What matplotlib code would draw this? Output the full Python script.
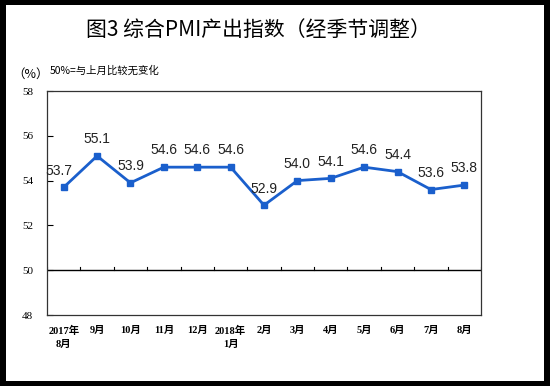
import matplotlib.pyplot as plt
from matplotlib.patches import Rectangle

months = ['2017年\n8月', '9月', '10月', '11月', '12月', '2018年\n1月', '2月',
          '3月', '4月', '5月', '6月', '7月', '8月']
pmi = [53.7, 55.1, 53.9, 54.6, 54.6, 54.6, 52.9, 54.0, 54.1, 54.6, 54.4, 53.6, 53.8]
y_ticks = [48, 50, 52, 54, 56, 58]

cjk = ['Noto Sans CJK SC', 'DejaVu Sans']
serif = ['Liberation Serif', 'Noto Sans CJK SC']

fig = plt.figure(figsize=(5.5, 3.86), dpi=100)
fig.patch.set_facecolor('black')
# white inner panel inside the black border
fig.patches.append(Rectangle((6 / 550, 5 / 386), 538 / 550, 376 / 386,
                             transform=fig.transFigure, facecolor='white',
                             edgecolor='none', zorder=-10))

ax = fig.add_axes([47 / 550, 1 - 315 / 386, 434 / 550, 224 / 386])
ax.set_zorder(1)
x = list(range(len(pmi)))
line_color = '#1a5fcc'
ax.plot(x, pmi, color=line_color, lw=2, marker='s', ms=4, zorder=3)

for i, v in enumerate(pmi):
    dx = -0.15 if i == 0 else 0
    ax.annotate(f'{v:.1f}', (i + dx, v), xytext=(0, 7), textcoords='offset points',
                ha='center', va='bottom', fontsize=10,
                family=['Liberation Sans', 'DejaVu Sans'], color='#222222')

ax.set_xlim(-0.5, len(pmi) - 0.5)
ax.set_ylim(48, 58)
ax.set_yticks(y_ticks)
ax.set_yticklabels([str(t) for t in y_ticks], family=serif, fontsize=8)
ax.tick_params(axis='y', direction='in', length=4, pad=10, width=0.8)

# x axis drawn along the 50 line, labels below the frame
ax.axhline(50, color='black', lw=1, zorder=2)
for i in range(len(pmi) + 1):
    ax.plot([i - 0.5, i - 0.5], [50, 50.15], color='black', lw=0.8)
ax.set_xticks(x)
ax.set_xticklabels(months, family=serif, fontsize=7.5, fontweight='bold',
                   linespacing=1.5, va='top')
ax.tick_params(axis='x', length=0, pad=8)

for s in ax.spines.values():
    s.set_linewidth(0.9)
    s.set_color('#333333')

fig.text(258 / 550, 1 - 30 / 386, '图3 综合PMI产出指数（经季节调整）', ha='center',
         va='center', fontsize=15, family=cjk, fontweight='medium')
fig.text(12 / 550, 1 - 74 / 386, '（%）', ha='left', va='center', fontsize=9,
         family=cjk)
fig.text(50 / 550, 1 - 71 / 386, '50%=与上月比较无变化', ha='left', va='center',
         fontsize=7.5, family=cjk)

fig.savefig('out.png', dpi=100, facecolor=fig.get_facecolor())
